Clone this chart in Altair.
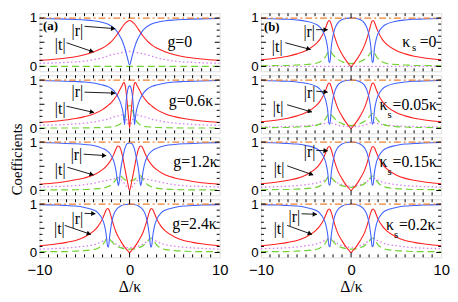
import math
import altair as alt
import pandas as pd

# ---------------- data ----------------
# x grids hold the right half of each panel (Δ/κ >= 0); every curve is mirror-symmetric about Δ = 0
X_G0 = [0, 0.25, 0.5, 0.75, 1, 1.5, 2, 2.5, 3, 4, 5, 6, 7, 8, 10]
X_G06 = [0, 0.1, 0.2, 0.3, 0.4, 0.5, 0.55, 0.6, 0.65, 0.7, 0.8, 1.0, 1.25, 1.5, 2, 2.5, 3, 4, 5, 6, 8, 10]
X_G12 = [0, 0.25, 0.5, 0.75, 1.0, 1.15, 1.25, 1.35, 1.5, 1.75, 2, 2.5, 3, 4, 5, 6, 8, 10]
X_G24 = [0, 0.25, 0.5, 1.0, 1.5, 1.8, 2.0, 2.2, 2.35, 2.45, 2.6, 2.8, 3.0, 3.5, 4, 5, 6, 7, 8, 10]

# (a) g = 0
A1_T = [0.95, 0.93, 0.89, 0.83, 0.76, 0.63, 0.52, 0.44, 0.38, 0.30, 0.24, 0.20, 0.175, 0.155, 0.125]
A1_R = [0.03, 0.19, 0.36, 0.50, 0.60, 0.75, 0.83, 0.88, 0.91, 0.945, 0.96, 0.97, 0.978, 0.983, 0.99]
A1_GREEN = [0.0, 0.0, 0.0, 0.0, 0.0, 0.0, 0.0, 0.0, 0.0, 0.0, 0.0, 0.0, 0.0, 0.0, 0.0]
A1_VIOLET = [0.31, 0.305, 0.30, 0.29, 0.28, 0.26, 0.24, 0.21, 0.18, 0.14, 0.11, 0.095, 0.085, 0.075, 0.065]

# (a) g = 0.6κ
A2_T = [0.02, 0.20, 0.40, 0.60, 0.78, 0.90, 0.93, 0.95, 0.95, 0.94, 0.90, 0.83, 0.74, 0.66, 0.54, 0.46, 0.39, 0.30, 0.245, 0.205, 0.155, 0.125]
A2_R = [0.88, 0.86, 0.80, 0.70, 0.50, 0.22, 0.08, 0.15, 0.22, 0.30, 0.40, 0.53, 0.64, 0.72, 0.82, 0.87, 0.90, 0.94, 0.96, 0.97, 0.982, 0.99]
A2_GREEN = [0.47, 0.47, 0.45, 0.40, 0.33, 0.27, 0.24, 0.21, 0.19, 0.17, 0.14, 0.10, 0.07, 0.05, 0.035, 0.025, 0.02, 0.015, 0.012, 0.01, 0.01, 0.01]
A2_VIOLET = [0.03, 0.07, 0.12, 0.17, 0.22, 0.26, 0.27, 0.28, 0.28, 0.28, 0.28, 0.27, 0.26, 0.25, 0.22, 0.19, 0.17, 0.135, 0.11, 0.095, 0.075, 0.065]

# (a) g = 1.2κ
A3_T = [0.0, 0.20, 0.43, 0.68, 0.86, 0.91, 0.92, 0.91, 0.86, 0.75, 0.65, 0.52, 0.43, 0.32, 0.26, 0.22, 0.16, 0.13]
A3_R = [0.98, 0.97, 0.88, 0.68, 0.42, 0.18, 0.10, 0.20, 0.40, 0.60, 0.71, 0.82, 0.87, 0.93, 0.95, 0.965, 0.98, 0.99]
A3_GREEN = [0.20, 0.21, 0.22, 0.26, 0.30, 0.31, 0.30, 0.28, 0.23, 0.17, 0.12, 0.075, 0.05, 0.03, 0.02, 0.015, 0.012, 0.01]
A3_VIOLET = [0.03, 0.07, 0.13, 0.19, 0.23, 0.25, 0.26, 0.26, 0.25, 0.24, 0.23, 0.21, 0.19, 0.15, 0.12, 0.10, 0.085, 0.07]

# (a) g = 2.4κ
A4_T = [0.0, 0.05, 0.10, 0.24, 0.42, 0.58, 0.71, 0.84, 0.90, 0.91, 0.88, 0.79, 0.70, 0.54, 0.44, 0.32, 0.25, 0.21, 0.18, 0.14]
A4_R = [1.0, 0.995, 0.99, 0.96, 0.88, 0.76, 0.60, 0.35, 0.11, 0.14, 0.38, 0.57, 0.68, 0.82, 0.88, 0.93, 0.96, 0.97, 0.98, 0.99]
A4_GREEN = [0.07, 0.07, 0.075, 0.10, 0.14, 0.19, 0.23, 0.27, 0.30, 0.30, 0.27, 0.21, 0.16, 0.09, 0.06, 0.04, 0.03, 0.02, 0.02, 0.015]
A4_VIOLET = [0.10, 0.10, 0.11, 0.13, 0.17, 0.21, 0.24, 0.27, 0.28, 0.28, 0.27, 0.25, 0.23, 0.19, 0.16, 0.13, 0.11, 0.095, 0.085, 0.07]

# (b) κs = 0
B1_T = [0.0, 0.05, 0.11, 0.25, 0.44, 0.60, 0.73, 0.87, 0.94, 0.95, 0.91, 0.81, 0.72, 0.55, 0.45, 0.33, 0.26, 0.21, 0.18, 0.14]
B1_R = [1.0, 0.998, 0.993, 0.97, 0.89, 0.78, 0.64, 0.40, 0.08, 0.10, 0.38, 0.57, 0.68, 0.82, 0.88, 0.935, 0.96, 0.975, 0.98, 0.99]
B1_GREEN = [0.06, 0.065, 0.07, 0.10, 0.15, 0.20, 0.24, 0.29, 0.32, 0.32, 0.28, 0.21, 0.16, 0.09, 0.06, 0.04, 0.03, 0.02, 0.02, 0.015]
B1_VIOLET = [0.0, 0.0, 0.0, 0.0, 0.0, 0.0, 0.0, 0.0, 0.0, 0.0, 0.0, 0.0, 0.0, 0.0, 0.0, 0.0, 0.0, 0.0, 0.0, 0.0]

# (b) κs = 0.05κ
B2_T = [0.0, 0.05, 0.11, 0.25, 0.43, 0.59, 0.72, 0.86, 0.93, 0.94, 0.90, 0.80, 0.71, 0.55, 0.45, 0.33, 0.26, 0.21, 0.18, 0.14]
B2_R = [1.0, 0.997, 0.992, 0.965, 0.89, 0.77, 0.63, 0.38, 0.09, 0.11, 0.38, 0.57, 0.68, 0.82, 0.88, 0.935, 0.96, 0.975, 0.98, 0.99]
B2_GREEN = [0.06, 0.065, 0.07, 0.10, 0.15, 0.20, 0.24, 0.28, 0.31, 0.31, 0.28, 0.21, 0.16, 0.09, 0.06, 0.04, 0.03, 0.02, 0.02, 0.015]
B2_VIOLET = [0.04, 0.04, 0.045, 0.05, 0.07, 0.09, 0.10, 0.12, 0.13, 0.13, 0.12, 0.11, 0.10, 0.08, 0.07, 0.055, 0.045, 0.04, 0.035, 0.03]

# (b) κs = 0.15κ
B3_T = [0.0, 0.05, 0.10, 0.24, 0.42, 0.58, 0.71, 0.84, 0.90, 0.91, 0.88, 0.79, 0.70, 0.54, 0.44, 0.32, 0.25, 0.21, 0.18, 0.14]
B3_R = [1.0, 0.995, 0.99, 0.96, 0.88, 0.76, 0.60, 0.36, 0.11, 0.13, 0.38, 0.57, 0.68, 0.82, 0.88, 0.93, 0.96, 0.97, 0.98, 0.99]
B3_GREEN = [0.065, 0.07, 0.075, 0.10, 0.14, 0.19, 0.23, 0.27, 0.30, 0.30, 0.27, 0.21, 0.16, 0.09, 0.06, 0.04, 0.03, 0.02, 0.02, 0.015]
B3_VIOLET = [0.09, 0.09, 0.10, 0.12, 0.16, 0.19, 0.22, 0.25, 0.26, 0.26, 0.25, 0.23, 0.21, 0.17, 0.15, 0.12, 0.10, 0.09, 0.08, 0.07]

# (b) κs = 0.2κ
B4_T = [0.0, 0.05, 0.10, 0.24, 0.41, 0.57, 0.70, 0.83, 0.89, 0.90, 0.87, 0.78, 0.69, 0.54, 0.44, 0.32, 0.25, 0.21, 0.18, 0.14]
B4_R = [1.0, 0.995, 0.99, 0.96, 0.88, 0.76, 0.60, 0.35, 0.12, 0.14, 0.38, 0.57, 0.68, 0.82, 0.88, 0.93, 0.96, 0.97, 0.98, 0.99]
B4_GREEN = [0.07, 0.07, 0.075, 0.10, 0.14, 0.19, 0.23, 0.27, 0.30, 0.30, 0.27, 0.21, 0.16, 0.09, 0.06, 0.04, 0.03, 0.02, 0.02, 0.015]
B4_VIOLET = [0.11, 0.11, 0.12, 0.14, 0.18, 0.22, 0.25, 0.28, 0.29, 0.29, 0.28, 0.26, 0.24, 0.20, 0.17, 0.14, 0.115, 0.10, 0.09, 0.08]

# orange dash-dot total (flat at 1)
SUM_X = [-10, 10]
SUM_Y = [1.0, 1.0]

# axis labels and tick positions
X_LABELS = [-10, 0, 10]
Y_LABELS = [0, 1]
X_MAJOR_TICKS = [0]
X_MINOR_TICKS = [-9, -8, -7, -6, -5, -4, -3, -2, -1, 1, 2, 3, 4, 5, 6, 7, 8, 9]
Y_MAJOR_TICKS = [0, 0.5, 1]
Y_MINOR_TICKS = [0.125, 0.25, 0.375, 0.625, 0.75, 0.875]

# panel labels
LBL_R, LBL_T = "|r|", "|t|"
A_LABELS = ["g=0", "g=0.6κ", "g=1.2κ", "g=2.4κ"]
B_LABELS = ["=0", "=0.05κ", "=0.15κ", "=0.2κ"]

# ---------------- styling / layout ----------------
SERIF = "Liberation Serif"
SANS = "Liberation Sans"
W, H = 183, 59
XDOM = [-10, 10]
YDOM = [-0.1, 1.1]

SERIES_STYLE = [  # key, colour, dash, width  (drawing order)
    ("v", "#d77cf2", [1.5, 2.5], 1.3),
    ("g", "#72d433", [7, 4], 1.2),
    ("t", "#ff2020", None, 1.1),
    ("r", "#4162ff", None, 1.1),
    ("sum", "#ee8030", [7, 3, 2, 3], 1.2),
]

TEXT_STYLES = {
    "bar": dict(font=SERIF, fontSize=16, align="center", baseline="middle", color="black"),
    "lab": dict(font=SERIF, fontSize=16, align="left", baseline="middle", color="black"),
    "sub": dict(font=SERIF, fontSize=11, align="left", baseline="middle", color="black"),
    "tag": dict(font=SERIF, fontSize=13, fontWeight="bold", align="left", baseline="middle", color="black"),
}


def mirror(xh, yh):
    xs = [-v for v in reversed(xh[1:])] + list(xh)
    ys = list(reversed(yh[1:])) + list(yh)
    return xs, ys


def panel(p, bottom=False, ytitle=None):
    xsc = alt.Scale(domain=XDOM, nice=False, zero=False)
    ysc = alt.Scale(domain=YDOM, nice=False, zero=False)
    if bottom:
        xaxis = alt.Axis(values=X_LABELS, format="d", title="Δ/κ", ticks=False, domain=False, grid=False,
                         labelFlush=False, labelFont=SANS, labelFontSize=15, labelPadding=5,
                         labelColor="black", titleFont=SERIF, titleFontSize=16,
                         titleFontWeight="normal", titlePadding=2, titleColor="black")
    else:
        xaxis = None
    ykw = dict(values=Y_LABELS, format="d", ticks=False, domain=False, grid=False,
               labelFont=SANS, labelFontSize=13.5, labelPadding=3, labelColor="black")
    if ytitle:
        yaxis = alt.Axis(title=ytitle, titleFont=SERIF, titleFontSize=15, titleFontWeight="normal",
                         titlePadding=5, titleColor="black", titleY=22, **ykw)
    else:
        yaxis = alt.Axis(title=None, **ykw)

    def X(f="x"):
        return alt.X(f + ":Q", scale=xsc, axis=xaxis)

    def Y(f="y"):
        return alt.Y(f + ":Q", scale=ysc, axis=yaxis)

    layers = []
    for key, color, dash, sw in SERIES_STYLE:
        if key == "sum":
            xs, ys = SUM_X, SUM_Y
        else:
            xs, ys = mirror(p["x"], p[key])
        df = pd.DataFrame({"x": xs, "y": ys})
        mk = dict(color=color, strokeWidth=sw, interpolate="monotone", clip=True)
        if dash:
            mk["strokeDash"] = dash
        layers.append(alt.Chart(df).mark_line(**mk).encode(x=X(), y=Y()))

    # inward ticks on all four sides
    for vals, ln in ((X_MAJOR_TICKS, 5), (X_MINOR_TICKS, 3)):
        df = pd.DataFrame({"x": vals})
        layers.append(alt.Chart(df).mark_rule(color="black", strokeWidth=1).encode(
            x=X(), y=alt.value(0), y2=alt.value(ln)))
        layers.append(alt.Chart(df).mark_rule(color="black", strokeWidth=1).encode(
            x=X(), y=alt.value(H), y2=alt.value(H - ln)))
    for vals, ln in ((Y_MAJOR_TICKS, 5), (Y_MINOR_TICKS, 3)):
        df = pd.DataFrame({"y": vals})
        layers.append(alt.Chart(df).mark_rule(color="black", strokeWidth=1).encode(
            y=Y(), x=alt.value(0), x2=alt.value(ln)))
        layers.append(alt.Chart(df).mark_rule(color="black", strokeWidth=1).encode(
            y=Y(), x=alt.value(W), x2=alt.value(W - ln)))

    # arrows
    arr = p["arrows"]
    df = pd.DataFrame(arr, columns=["x", "y", "x2", "y2"])
    layers.append(alt.Chart(df).mark_rule(color="black", strokeWidth=0.9).encode(
        x=X(), y=Y(), x2=alt.X2("x2:Q"), y2=alt.Y2("y2:Q")))
    heads = []
    for x1, y1, x2, y2 in arr:
        dx = (x2 - x1) * W / 20.0
        dy = -(y2 - y1) * H / 1.2
        L = math.hypot(dx, dy)
        ang = math.degrees(math.atan2(dy, dx)) % 360
        back = 2.0
        heads.append({"x": x2 - dx / L * back * 20.0 / W,
                      "y": y2 + dy / L * back * 1.2 / H,
                      "ang": ang})
    layers.append(alt.Chart(pd.DataFrame(heads)).mark_point(
        shape="triangle-right", filled=True, size=26, color="black", opacity=1).encode(
        x=X(), y=Y(), angle=alt.Angle("ang:Q", scale=None)))

    # texts
    txt = pd.DataFrame(p["texts"], columns=["x", "y", "t", "kind"])
    for kind, mk in TEXT_STYLES.items():
        sub = txt[txt["kind"] == kind]
        if len(sub):
            layers.append(alt.Chart(sub).mark_text(**mk).encode(x=X(), y=Y(), text="t:N"))

    return alt.layer(*layers).properties(width=W, height=H)


PA = [
    dict(x=X_G0, t=A1_T, r=A1_R, g=A1_GREEN, v=A1_VIOLET,
         texts=[(-9.6, 0.84, "(a)", "tag"), (-5.8, 0.74, LBL_R, "bar"), (-7.7, 0.45, LBL_T, "bar"),
                (4.2, 0.51, A_LABELS[0], "lab")],
         arrows=[(-5.0, 0.83, -1.6, 0.78), (-7.0, 0.49, -4.0, 0.30)]),
    dict(x=X_G06, t=A2_T, r=A2_R, g=A2_GREEN, v=A2_VIOLET,
         texts=[(-5.8, 0.75, LBL_R, "bar"), (-7.7, 0.41, LBL_T, "bar"), (4.35, 0.56, A_LABELS[1], "lab")],
         arrows=[(-5.0, 0.75, -1.6, 0.73), (-7.0, 0.46, -3.95, 0.33)]),
    dict(x=X_G12, t=A3_T, r=A3_R, g=A3_GREEN, v=A3_VIOLET,
         texts=[(-5.9, 0.74, LBL_R, "bar"), (-7.7, 0.43, LBL_T, "bar"), (4.86, 0.58, A_LABELS[2], "lab")],
         arrows=[(-5.1, 0.75, -2.6, 0.72), (-6.9, 0.48, -4.0, 0.32)]),
    dict(x=X_G24, t=A4_T, r=A4_R, g=A4_GREEN, v=A4_VIOLET,
         texts=[(-5.8, 0.70, LBL_R, "bar"), (-7.8, 0.48, LBL_T, "bar"), (4.75, 0.58, A_LABELS[3], "lab")],
         arrows=[(-5.0, 0.81, -3.8, 0.80), (-7.2, 0.56, -4.3, 0.375)]),
]
PB = [
    dict(x=X_G24, t=B1_T, r=B1_R, g=B1_GREEN, v=B1_VIOLET,
         texts=[(-9.68, 0.82, "(b)", "tag"), (-4.65, 0.70, LBL_R, "bar"), (-8.2, 0.41, LBL_T, "bar"),
                (5.68, 0.51, "κ", "lab"), (6.76, 0.37, "s", "sub"), (7.62, 0.51, B_LABELS[0], "lab")],
         arrows=[(-3.87, 0.76, -2.6, 0.76), (-7.3, 0.49, -4.5, 0.35)]),
    dict(x=X_G24, t=B2_T, r=B2_R, g=B2_GREEN, v=B2_VIOLET,
         texts=[(-4.6, 0.73, LBL_R, "bar"), (-8.1, 0.42, LBL_T, "bar"),
                (3.16, 0.48, "κ", "lab"), (4.05, 0.28, "s", "sub"), (4.6, 0.48, B_LABELS[1], "lab")],
         arrows=[(-3.87, 0.77, -2.6, 0.75), (-7.1, 0.49, -4.35, 0.34)]),
    dict(x=X_G24, t=B3_T, r=B3_R, g=B3_GREEN, v=B3_VIOLET,
         texts=[(-4.6, 0.80, LBL_R, "bar"), (-8.0, 0.45, LBL_T, "bar"),
                (3.16, 0.58, "κ", "lab"), (4.05, 0.38, "s", "sub"), (4.6, 0.58, B_LABELS[2], "lab")],
         arrows=[(-3.87, 0.83, -2.6, 0.82), (-7.1, 0.51, -4.2, 0.32)]),
    dict(x=X_G24, t=B4_T, r=B4_R, g=B4_GREEN, v=B4_VIOLET,
         texts=[(-6.3, 0.74, LBL_R, "bar"), (-8.0, 0.48, LBL_T, "bar"),
                (3.87, 0.57, "κ", "lab"), (4.78, 0.36, "s", "sub"), (5.32, 0.57, B_LABELS[3], "lab")],
         arrows=[(-5.5, 0.80, -3.8, 0.79), (-7.1, 0.56, -4.35, 0.375)]),
]

cells = []
for i in range(4):
    cells.append(panel(PA[i], bottom=(i == 3), ytitle=("Coefficients" if i == 2 else None)))
    cells.append(panel(PB[i], bottom=(i == 3)))

chart = alt.concat(*cells, columns=2, spacing={"row": 4, "column": 42}, bounds="flush").properties(
    padding=0
).configure_view(stroke="black", strokeWidth=1.2).configure(background="white")

chart.save("out.html", embed_options={"renderer": "svg", "actions": False})
